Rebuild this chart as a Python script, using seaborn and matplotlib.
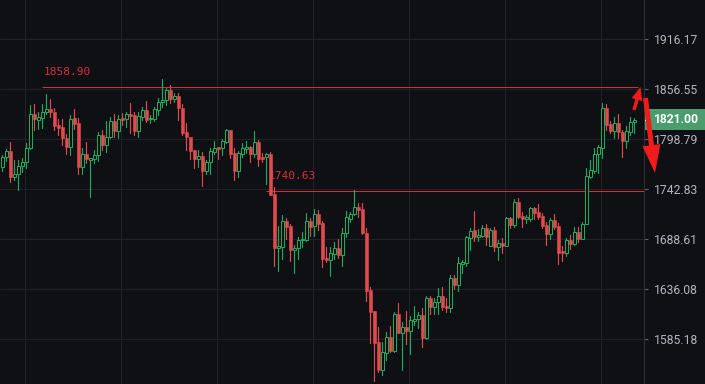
import numpy as np
import pandas as pd
import matplotlib
matplotlib.use("Agg")
import matplotlib.pyplot as plt
import seaborn as sns
from matplotlib.patches import Polygon, Rectangle
from matplotlib.ticker import FixedLocator, FixedFormatter, NullLocator

# ---------------- data ----------------
opens = [1766.9, 1778.1, 1784.9, 1756.4, 1759.4, 1768.0, 1772.5, 1788.2, 1827.1, 1821.0,
         1823.2, 1829.4, 1833.2, 1829.4, 1814.8, 1812.5, 1800.3, 1790.1, 1822.5, 1816.7,
         1767.6, 1781.4, 1775.4, 1776.5, 1780.7, 1803.4, 1792.0, 1800.5, 1819.4, 1807.9,
         1823.2, 1821.3, 1827.4, 1826.0, 1808.2, 1824.4, 1832.1, 1821.3, 1821.3, 1832.1,
         1840.8, 1843.7, 1855.4, 1844.5, 1848.4, 1834.0, 1806.4, 1800.8, 1786.3, 1775.8,
         1779.6, 1763.0, 1772.5, 1784.1, 1789.4, 1788.2, 1795.9, 1809.1, 1782.4, 1763.1,
         1781.8, 1787.5, 1789.4, 1781.5, 1795.7, 1778.8, 1778.4, 1781.3, 1737.3, 1679.3,
         1680.4, 1707.9, 1702.5, 1677.2, 1678.7, 1687.2, 1687.5, 1707.9, 1702.2, 1715.5,
         1705.8, 1668.4, 1666.6, 1673.0, 1679.0, 1672.1, 1694.7, 1710.1, 1715.0, 1722.8,
         1720.6, 1694.7, 1634.7, 1613.1, 1581.8, 1554.4, 1571.5, 1586.8, 1573.5, 1610.4,
         1591.5, 1596.9, 1593.5, 1603.6, 1605.0, 1609.4, 1585.8, 1626.5, 1617.8, 1623.0,
         1629.1, 1618.9, 1616.8, 1647.2, 1640.2, 1662.6, 1663.5, 1690.2, 1698.2, 1691.0,
         1692.1, 1700.0, 1681.4, 1698.2, 1680.4, 1684.6, 1681.4, 1710.8, 1703.6, 1728.2,
         1713.4, 1710.1, 1710.1, 1722.0, 1717.3, 1713.4, 1703.6, 1693.9, 1709.0, 1702.5,
         1675.8, 1674.0, 1687.5, 1683.2, 1696.1, 1688.6, 1704.4, 1756.4, 1763.1, 1781.5,
         1788.2, 1834.0, 1815.9, 1808.2, 1817.4, 1807.1, 1796.9, 1807.1, 1817.9]
highs = [1780.7, 1787.5, 1795.0, 1775.1, 1775.1, 1777.7, 1793.9, 1837.9, 1838.7, 1829.4,
         1838.7, 1850.4, 1844.5, 1834.0, 1821.7, 1821.7, 1804.1, 1826.3, 1833.2, 1822.5,
         1788.9, 1795.0, 1777.0, 1786.3, 1806.4, 1809.1, 1819.4, 1824.4, 1827.4, 1826.3,
         1828.9, 1830.1, 1839.9, 1830.1, 1830.1, 1835.9, 1842.5, 1826.3, 1835.9, 1845.7,
         1867.9, 1858.3, 1860.9, 1851.9, 1851.9, 1838.7, 1817.4, 1800.8, 1786.3, 1786.3,
         1784.6, 1775.1, 1788.9, 1796.9, 1790.1, 1798.4, 1809.9, 1809.1, 1788.2, 1785.5,
         1793.9, 1796.5, 1790.9, 1807.9, 1798.0, 1783.3, 1783.3, 1784.4, 1745.0, 1702.5,
         1713.9, 1711.7, 1705.0, 1682.7, 1691.0, 1696.1, 1716.6, 1711.7, 1720.6, 1720.2,
         1707.6, 1680.4, 1680.0, 1685.7, 1688.8, 1700.7, 1718.4, 1718.0, 1741.7, 1728.0,
         1727.1, 1700.0, 1637.8, 1613.1, 1597.2, 1581.8, 1591.9, 1598.5, 1612.7, 1621.9,
         1601.9, 1613.4, 1608.6, 1618.9, 1612.7, 1616.2, 1628.8, 1628.8, 1627.1, 1636.8,
         1637.8, 1626.5, 1650.6, 1650.6, 1669.2, 1666.3, 1691.5, 1700.0, 1719.1, 1699.0,
         1703.6, 1704.7, 1700.7, 1701.8, 1687.5, 1690.0, 1711.9, 1711.9, 1731.8, 1732.6,
         1717.3, 1714.4, 1723.4, 1722.8, 1726.0, 1716.1, 1707.2, 1711.5, 1715.9, 1705.4,
         1681.1, 1689.3, 1692.9, 1701.8, 1701.5, 1707.2, 1765.8, 1775.1, 1788.2, 1792.0,
         1840.6, 1839.1, 1819.7, 1823.6, 1827.4, 1809.1, 1813.6, 1824.4, 1822.5]
lows = [1763.1, 1773.9, 1750.9, 1752.8, 1741.7, 1762.0, 1766.4, 1787.5, 1809.1, 1810.2,
        1811.7, 1827.1, 1824.4, 1809.1, 1803.4, 1792.0, 1782.2, 1780.7, 1810.2, 1759.8,
        1759.4, 1771.4, 1733.7, 1771.4, 1773.9, 1786.3, 1783.7, 1799.6, 1801.4, 1800.3,
        1814.8, 1812.8, 1806.0, 1803.4, 1801.4, 1820.5, 1818.8, 1816.7, 1819.4, 1826.3,
        1835.9, 1837.9, 1839.9, 1841.4, 1820.5, 1802.8, 1786.3, 1776.5, 1766.4, 1767.6,
        1746.5, 1759.4, 1759.4, 1781.8, 1775.8, 1780.7, 1794.6, 1777.0, 1753.3, 1756.4,
        1778.8, 1783.3, 1773.2, 1778.4, 1768.0, 1773.2, 1748.3, 1736.2, 1660.3, 1655.1,
        1667.7, 1688.9, 1665.5, 1653.0, 1667.4, 1680.0, 1686.5, 1692.3, 1692.3, 1698.2,
        1659.3, 1664.2, 1649.5, 1667.9, 1668.4, 1660.0, 1691.0, 1707.2, 1713.9, 1712.6,
        1693.9, 1624.0, 1580.8, 1544.1, 1552.7, 1549.5, 1564.2, 1572.5, 1572.5, 1590.9,
        1554.7, 1579.8, 1570.5, 1599.2, 1596.7, 1577.4, 1585.1, 1610.4, 1610.4, 1610.4,
        1614.5, 1612.7, 1612.7, 1635.7, 1634.3, 1653.2, 1660.0, 1676.9, 1686.8, 1686.8,
        1690.4, 1682.7, 1681.4, 1676.1, 1666.3, 1674.0, 1681.4, 1700.7, 1701.8, 1710.8,
        1701.1, 1705.4, 1708.2, 1710.1, 1710.6, 1700.0, 1682.5, 1688.6, 1699.0, 1661.9,
        1665.3, 1670.5, 1677.9, 1682.2, 1685.7, 1688.6, 1704.4, 1754.7, 1760.9, 1760.9,
        1777.0, 1809.1, 1805.3, 1800.3, 1800.3, 1778.8, 1788.9, 1803.4, 1806.0]
closes = [1778.1, 1784.9, 1755.8, 1759.4, 1768.3, 1772.5, 1788.2, 1827.1, 1821.3, 1824.0,
          1829.4, 1833.2, 1829.4, 1814.0, 1811.7, 1799.6, 1790.1, 1821.7, 1815.9, 1767.6,
          1781.8, 1775.8, 1777.0, 1780.7, 1803.4, 1792.0, 1801.1, 1819.4, 1807.9, 1821.3,
          1820.5, 1827.4, 1825.7, 1808.2, 1825.1, 1832.1, 1820.5, 1822.8, 1833.2, 1841.0,
          1843.7, 1855.4, 1844.5, 1848.4, 1834.0, 1805.6, 1800.8, 1785.5, 1775.9, 1779.6,
          1763.0, 1773.2, 1785.2, 1788.6, 1787.8, 1796.5, 1809.1, 1782.0, 1763.1, 1782.6,
          1788.2, 1789.4, 1781.5, 1795.0, 1776.5, 1776.5, 1781.3, 1736.2, 1679.3, 1681.1,
          1707.9, 1701.8, 1677.2, 1679.3, 1687.5, 1688.6, 1707.9, 1701.8, 1715.5, 1705.0,
          1667.7, 1666.6, 1673.4, 1679.0, 1671.6, 1694.7, 1712.2, 1715.5, 1722.8, 1719.8,
          1694.7, 1634.3, 1612.7, 1581.4, 1554.4, 1571.9, 1586.8, 1573.5, 1610.4, 1591.5,
          1596.9, 1593.5, 1604.0, 1605.0, 1609.4, 1585.8, 1627.1, 1617.8, 1623.0, 1629.1,
          1617.8, 1616.8, 1647.2, 1640.2, 1662.8, 1664.5, 1690.4, 1697.5, 1690.7, 1692.5,
          1700.0, 1691.0, 1698.2, 1680.4, 1684.0, 1681.4, 1710.8, 1703.6, 1728.2, 1712.6,
          1710.1, 1711.9, 1722.0, 1717.1, 1712.6, 1702.5, 1693.9, 1709.0, 1701.8, 1674.0,
          1674.0, 1687.5, 1683.2, 1696.1, 1688.6, 1704.7, 1757.2, 1763.9, 1781.8, 1789.4,
          1834.0, 1814.8, 1808.2, 1816.7, 1806.4, 1796.9, 1807.9, 1817.9, 1821.0]

tick_values = [1916.17, 1856.55, 1798.79, 1742.83, 1688.61, 1636.08, 1585.18]
tick_labels = ["1916.17", "1856.55", "1798.79", "1742.83", "1688.61", "1636.08", "1585.18"]
resistance_level = 1858.90
support_level = 1740.63
last_price = 1821.00

# ---------------- style ----------------
BG = "#0e1014"
GRID = "#1f2227"
GREEN = "#22a95c"
RED = "#e34a4d"
LINE_RED = "#d8303a"
ARROW_RED = "#f01c1c"
TICK_TXT = "#b4b7bf"

sns.set_theme(style="dark", rc={
    "axes.facecolor": BG, "figure.facecolor": BG, "savefig.facecolor": BG,
    "grid.color": GRID, "axes.edgecolor": "#2b2f36",
})
plt.rcParams["font.family"] = ["Roboto", "DejaVu Sans"]

W, H = 705, 384
fig = plt.figure(figsize=(W / 100, H / 100), dpi=100)
ax = fig.add_axes([0, 0, 644 / W, 1])

df = pd.DataFrame({"open": opens, "high": highs, "low": lows, "close": closes})
df["idx"] = np.arange(len(df))
df["dir"] = np.where(df["close"] >= df["open"], "up", "down")

ax.set_yscale("log")
ax.set_ylim(1540.72, 1963.99)
ax.set_xlim(-0.575, 160.425)

# wicks via seaborn (one unit per candle)
wick_df = pd.concat([
    df[["idx", "dir"]].assign(price=df["low"]),
    df[["idx", "dir"]].assign(price=df["high"]),
]).sort_values(["idx", "price"])
sns.lineplot(data=wick_df, x="idx", y="price", units="idx", estimator=None,
             hue="dir", palette={"up": GREEN, "down": RED}, legend=False,
             lw=0.85, ax=ax, zorder=3)

# bodies
min_h = 1.1
for r in df.itertuples():
    lo, hi = min(r.open, r.close), max(r.open, r.close)
    if hi - lo < min_h:
        hi = lo + min_h
    if r.dir == "up":
        ax.add_patch(Rectangle((r.idx - 0.34, lo), 0.68, hi - lo, facecolor=BG,
                               edgecolor=GREEN, lw=0.75, zorder=4))
    else:
        ax.add_patch(Rectangle((r.idx - 0.38, lo), 0.76, hi - lo, facecolor=RED,
                               edgecolor=RED, lw=0.4, zorder=4))

# axes cosmetics
ax.yaxis.set_major_locator(FixedLocator(tick_values))
ax.yaxis.set_major_formatter(FixedFormatter(tick_labels))
ax.yaxis.set_minor_locator(NullLocator())
ax.yaxis.tick_right()
ax.tick_params(axis="y", which="major", length=3, width=0.8, color="#5d616b",
               pad=4.5, labelsize=8.7, labelcolor=TICK_TXT, right=True, left=False)
ax.set_xticks([5.675 + 24 * k for k in range(7)])
ax.tick_params(axis="x", length=0, labelbottom=False)
ax.grid(True, color=GRID, lw=0.8)
ax.set_xlabel("")
ax.set_ylabel("")
for s in ["top", "left", "bottom"]:
    ax.spines[s].set_visible(False)
ax.spines["right"].set_color("#2b2f36")
ax.spines["right"].set_linewidth(0.8)

# horizontal levels with labels
ax.hlines(resistance_level, 9.9, 158.9, color=LINE_RED, lw=0.7, zorder=2)
ax.hlines(support_level, 66.0, 160.4, color=LINE_RED, lw=0.7, zorder=2)
ax.annotate(f"{resistance_level:.2f}", xy=(9.9, resistance_level), xytext=(2, 15),
            textcoords="offset pixels", ha="left", va="center", color=LINE_RED,
            fontsize=8, family="DejaVu Sans Mono", zorder=1)
ax.annotate(f"{support_level:.2f}", xy=(66.0, support_level), xytext=(2, 15),
            textcoords="offset pixels", ha="left", va="center", color=LINE_RED,
            fontsize=8, family="DejaVu Sans Mono", zorder=1)

# last price tag
fig.canvas.draw()
y_disp = ax.transData.transform((0, last_price))[1]
yf = y_disp / H
fig.patches.append(Rectangle((645 / W, yf - 10.5 / H), 60 / W, 21 / H,
                             transform=fig.transFigure, facecolor="#4b9c6e",
                             edgecolor="none", zorder=5))
fig.add_artist(plt.Line2D([645 / W, 649 / W], [yf, yf], transform=fig.transFigure,
                          color="white", lw=0.9, zorder=6))
fig.text(676 / W, yf, f"{last_price:.2f}", ha="center", va="center",
         color="white", fontsize=8.7, fontweight="bold", zorder=7)


# arrows (annotation)
def arrow_poly(tail, tip, shaft, head_w, head_len):
    t = np.array(tail, float)
    p = np.array(tip, float)
    d = p - t
    u = d / np.hypot(*d)
    n = np.array([-u[1], u[0]])
    neck = p - u * head_len
    pts = [t + n * shaft / 2, neck + n * shaft / 2, neck + n * head_w / 2, p,
           neck - n * head_w / 2, neck - n * shaft / 2, t - n * shaft / 2]
    return [(x / W, 1 - y / H) for x, y in pts]


fig.patches.append(Polygon(arrow_poly((634.0, 110), (640.5, 87), 3.5, 11, 13),
                           closed=True, transform=fig.transFigure,
                           facecolor=ARROW_RED, edgecolor="none", zorder=8))
fig.patches.append(Polygon(arrow_poly((645.5, 98), (655, 173), 5.0, 18, 28),
                           closed=True, transform=fig.transFigure,
                           facecolor=ARROW_RED, edgecolor="none", zorder=8))

fig.savefig("out.png", dpi=100, facecolor=BG)
